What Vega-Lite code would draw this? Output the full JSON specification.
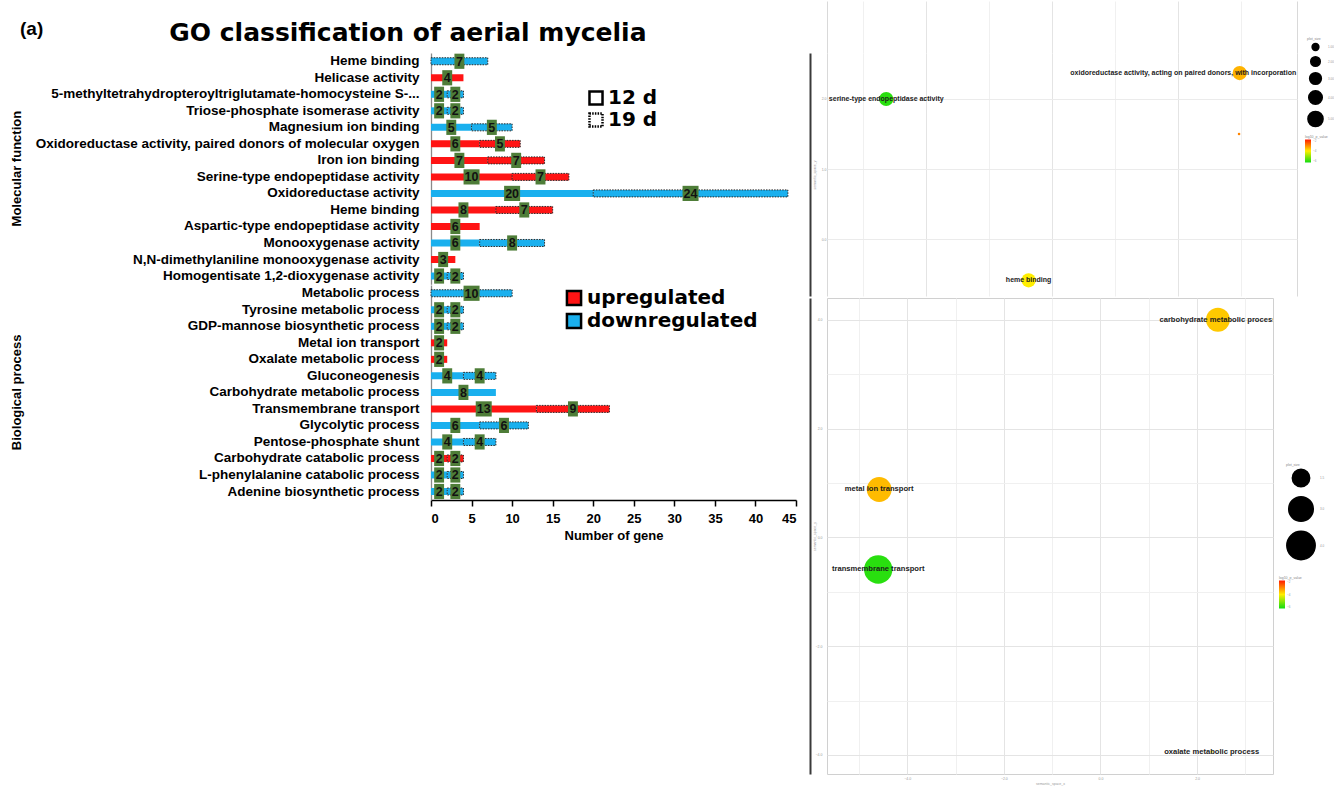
{
  "$schema": "https://vega.github.io/schema/vega-lite/v6.json",
  "background": "white",
  "padding": {"left": 11, "top": 0, "right": 0, "bottom": 0},
  "title": {"text": "(a)", "anchor": "start", "orient": "top", "offset": -38, "dx": 9, "font": "Liberation Sans", "fontSize": 19, "fontWeight": "bold", "color": "black"},
  "config": {"view": {"stroke": null}, "font": "Liberation Sans"},
  "spacing": 12,
  "resolve": {"scale": {"color": "independent", "size": "independent", "strokeDash": "independent"}, "legend": {"color": "independent", "size": "independent", "strokeDash": "independent"}},
  "hconcat": [
    {
      "data": {"values": [
        {"term": "Heme binding", "group": "Molecular function", "order": 1, "period": "19 d", "value": 7, "reg": "downregulated"},
        {"term": "Helicase activity", "group": "Molecular function", "order": 2, "period": "12 d", "value": 4, "reg": "upregulated"},
        {"term": "5-methyltetrahydropteroyltriglutamate-homocysteine S-...", "group": "Molecular function", "order": 3, "period": "12 d", "value": 2, "reg": "downregulated"},
        {"term": "5-methyltetrahydropteroyltriglutamate-homocysteine S-...", "group": "Molecular function", "order": 3, "period": "19 d", "value": 2, "reg": "downregulated"},
        {"term": "Triose-phosphate isomerase activity", "group": "Molecular function", "order": 4, "period": "12 d", "value": 2, "reg": "downregulated"},
        {"term": "Triose-phosphate isomerase activity", "group": "Molecular function", "order": 4, "period": "19 d", "value": 2, "reg": "downregulated"},
        {"term": "Magnesium ion binding", "group": "Molecular function", "order": 5, "period": "12 d", "value": 5, "reg": "downregulated"},
        {"term": "Magnesium ion binding", "group": "Molecular function", "order": 5, "period": "19 d", "value": 5, "reg": "downregulated"},
        {"term": "Oxidoreductase activity, paired donors of molecular oxygen", "group": "Molecular function", "order": 6, "period": "12 d", "value": 6, "reg": "upregulated"},
        {"term": "Oxidoreductase activity, paired donors of molecular oxygen", "group": "Molecular function", "order": 6, "period": "19 d", "value": 5, "reg": "upregulated"},
        {"term": "Iron ion binding", "group": "Molecular function", "order": 7, "period": "12 d", "value": 7, "reg": "upregulated"},
        {"term": "Iron ion binding", "group": "Molecular function", "order": 7, "period": "19 d", "value": 7, "reg": "upregulated"},
        {"term": "Serine-type endopeptidase activity", "group": "Molecular function", "order": 8, "period": "12 d", "value": 10, "reg": "upregulated"},
        {"term": "Serine-type endopeptidase activity", "group": "Molecular function", "order": 8, "period": "19 d", "value": 7, "reg": "upregulated"},
        {"term": "Oxidoreductase activity", "group": "Molecular function", "order": 9, "period": "12 d", "value": 20, "reg": "downregulated"},
        {"term": "Oxidoreductase activity", "group": "Molecular function", "order": 9, "period": "19 d", "value": 24, "reg": "downregulated"},
        {"term": "Heme binding\u200b", "group": "Molecular function", "order": 10, "period": "12 d", "value": 8, "reg": "upregulated"},
        {"term": "Heme binding\u200b", "group": "Molecular function", "order": 10, "period": "19 d", "value": 7, "reg": "upregulated"},
        {"term": "Aspartic-type endopeptidase activity", "group": "Molecular function", "order": 11, "period": "12 d", "value": 6, "reg": "upregulated"},
        {"term": "Monooxygenase activity", "group": "Molecular function", "order": 12, "period": "12 d", "value": 6, "reg": "downregulated"},
        {"term": "Monooxygenase activity", "group": "Molecular function", "order": 12, "period": "19 d", "value": 8, "reg": "downregulated"},
        {"term": "N,N-dimethylaniline monooxygenase activity", "group": "Molecular function", "order": 13, "period": "12 d", "value": 3, "reg": "upregulated"},
        {"term": "Homogentisate 1,2-dioxygenase activity", "group": "Molecular function", "order": 14, "period": "12 d", "value": 2, "reg": "downregulated"},
        {"term": "Homogentisate 1,2-dioxygenase activity", "group": "Molecular function", "order": 14, "period": "19 d", "value": 2, "reg": "downregulated"},
        {"term": "Metabolic process", "group": "Biological process", "order": 15, "period": "19 d", "value": 10, "reg": "downregulated"},
        {"term": "Tyrosine metabolic process", "group": "Biological process", "order": 16, "period": "12 d", "value": 2, "reg": "downregulated"},
        {"term": "Tyrosine metabolic process", "group": "Biological process", "order": 16, "period": "19 d", "value": 2, "reg": "downregulated"},
        {"term": "GDP-mannose biosynthetic process", "group": "Biological process", "order": 17, "period": "12 d", "value": 2, "reg": "downregulated"},
        {"term": "GDP-mannose biosynthetic process", "group": "Biological process", "order": 17, "period": "19 d", "value": 2, "reg": "downregulated"},
        {"term": "Metal ion transport", "group": "Biological process", "order": 18, "period": "12 d", "value": 2, "reg": "upregulated"},
        {"term": "Oxalate metabolic process", "group": "Biological process", "order": 19, "period": "12 d", "value": 2, "reg": "upregulated"},
        {"term": "Gluconeogenesis", "group": "Biological process", "order": 20, "period": "12 d", "value": 4, "reg": "downregulated"},
        {"term": "Gluconeogenesis", "group": "Biological process", "order": 20, "period": "19 d", "value": 4, "reg": "downregulated"},
        {"term": "Carbohydrate metabolic process", "group": "Biological process", "order": 21, "period": "12 d", "value": 8, "reg": "downregulated"},
        {"term": "Transmembrane transport", "group": "Biological process", "order": 22, "period": "12 d", "value": 13, "reg": "upregulated"},
        {"term": "Transmembrane transport", "group": "Biological process", "order": 22, "period": "19 d", "value": 9, "reg": "upregulated"},
        {"term": "Glycolytic process", "group": "Biological process", "order": 23, "period": "12 d", "value": 6, "reg": "downregulated"},
        {"term": "Glycolytic process", "group": "Biological process", "order": 23, "period": "19 d", "value": 6, "reg": "downregulated"},
        {"term": "Pentose-phosphate shunt", "group": "Biological process", "order": 24, "period": "12 d", "value": 4, "reg": "downregulated"},
        {"term": "Pentose-phosphate shunt", "group": "Biological process", "order": 24, "period": "19 d", "value": 4, "reg": "downregulated"},
        {"term": "Carbohydrate catabolic process", "group": "Biological process", "order": 25, "period": "12 d", "value": 2, "reg": "upregulated"},
        {"term": "Carbohydrate catabolic process", "group": "Biological process", "order": 25, "period": "19 d", "value": 2, "reg": "upregulated"},
        {"term": "L-phenylalanine catabolic process", "group": "Biological process", "order": 26, "period": "12 d", "value": 2, "reg": "downregulated"},
        {"term": "L-phenylalanine catabolic process", "group": "Biological process", "order": 26, "period": "19 d", "value": 2, "reg": "downregulated"},
        {"term": "Adenine biosynthetic process", "group": "Biological process", "order": 27, "period": "12 d", "value": 2, "reg": "downregulated"},
        {"term": "Adenine biosynthetic process", "group": "Biological process", "order": 27, "period": "19 d", "value": 2, "reg": "downregulated"}
      ]},
      "transform": [
        {"stack": "value", "groupby": ["term"], "sort": [{"field": "period"}], "as": ["x0", "x1"]},
        {"calculate": "(datum.x0 + datum.x1) / 2", "as": "mid"}
      ],
      "title": {"text": "\u00a0", "fontSize": 9, "subtitle": "GO classification of aerial mycelia", "subtitleFont": "DejaVu Sans", "subtitleFontSize": 25, "subtitleFontWeight": "bold", "subtitleColor": "black", "subtitlePadding": 2, "anchor": "middle", "offset": 7, "dx": 4},
      "facet": {"row": {"field": "group", "type": "nominal", "sort": ["Molecular function", "Biological process"], "header": {"title": null, "labelAngle": -90, "labelOrient": "left", "labelFontSize": 13, "labelFontWeight": "bold", "labelFont": "Liberation Sans", "labelPadding": 5, "labelColor": "black"}}},
      "spacing": {"row": 0},
      "resolve": {"scale": {"y": "independent"}},
      "spec": {
        "width": 365,
        "height": {"step": 16.52},
        "encoding": {
          "y": {"field": "term", "type": "nominal", "sort": {"field": "order", "op": "min"}, "scale": {"paddingInner": 0, "paddingOuter": 0},
            "axis": {"title": null, "ticks": false, "labelPadding": 12, "labelFontSize": 13.5, "labelFontWeight": "bold", "labelColor": "black", "labelLimit": 500, "domainColor": "#8a8a8a", "domainWidth": 1.3}}
        },
        "layer": [
          {
            "mark": {"type": "bar", "height": 7},
            "encoding": {
              "x": {"field": "x0", "type": "quantitative", "scale": {"domain": [0, 45], "nice": false},
                "axis": {"title": "Number of gene", "values": [0, 5, 10, 15, 20, 25, 30, 35, 40, 45], "grid": false, "titleFontSize": 13, "titleFontWeight": "bold", "titleColor": "black", "titlePadding": 4, "labelFontSize": 13, "labelFontWeight": "bold", "labelColor": "black", "labelPadding": 6, "tickSize": 6, "tickColor": "black", "tickWidth": 1.5, "domainColor": "black", "domainWidth": 1.5}},
              "x2": {"field": "x1"},
              "color": {"field": "reg", "type": "nominal", "scale": {"domain": ["upregulated", "downregulated"], "range": ["#ff1414", "#1ab0ee"]},
                "legend": {"title": null, "orient": "none", "legendX": 133, "legendY": 235, "symbolType": "square", "symbolSize": 200, "symbolStrokeWidth": 2.5, "symbolStrokeColor": "black", "labelFont": "DejaVu Sans", "labelFontSize": 20, "labelFontWeight": "bold", "labelColor": "black", "labelLimit": 400, "rowPadding": -9, "labelOffset": 3}}
            }
          },
          {
            "transform": [{"filter": "datum.period == '19 d'"}],
            "mark": {"type": "bar", "height": 7, "filled": false, "color": "#2a2a2a", "strokeWidth": 1},
            "encoding": {
              "x": {"field": "x0", "type": "quantitative"},
              "x2": {"field": "x1"},
              "strokeDash": {"field": "period", "type": "nominal", "scale": {"domain": ["12 d", "19 d"], "range": [[1, 0], [1.5, 1.2]]},
                "legend": {"title": null, "orient": "none", "legendX": 155, "legendY": 35, "symbolType": "square", "symbolSize": 170, "symbolStrokeWidth": 2.5, "symbolStrokeColor": "black", "symbolFillColor": "white", "labelFont": "DejaVu Sans", "labelFontSize": 20, "labelFontWeight": "bold", "labelColor": "black", "labelLimit": 300, "rowPadding": -2, "labelOffset": 2,
                  "encode": {"symbols": {"update": {"strokeDash": {"signal": "datum.value == '19 d' ? [3.5, 2.5] : [1, 0]"}, "stroke": {"value": "black"}, "strokeWidth": {"value": 2.5}}}}}
              }
            }
          },
          {
            "mark": {"type": "point", "filled": true, "opacity": 1, "color": "#4e7d38", "size": 256, "strokeWidth": 0},
            "encoding": {
              "x": {"field": "mid", "type": "quantitative"},
              "shape": {"condition": {"test": "datum.value >= 10", "value": "M-1,-0.95H1V0.95H-1Z"}, "value": "M-0.62,-0.95H0.62V0.95H-0.62Z"}
            }
          },
          {
            "mark": {"type": "text", "fontSize": 12.5, "fontWeight": "bold", "color": "#111111", "baseline": "middle", "dy": 0.5},
            "encoding": {
              "x": {"field": "mid", "type": "quantitative"},
              "text": {"field": "value", "type": "quantitative"}
            }
          }
        ]
      }
    },
    {
      "spacing": 2,
      "bounds": "flush",
      "resolve": {"scale": {"color": "independent", "size": "independent"}, "legend": {"color": "independent", "size": "independent"}},
      "vconcat": [
        {
          "width": 470,
          "height": 243,
          "view": {"stroke": null},
          "data": {"values": [
            {"term": "serine-type endopeptidase activity", "label": "serine-type endopeptidase activity", "sx": -2.63, "sy": 2.0, "plot_size": 4.4, "log10_p_value": -5.8},
            {"term": "oxidoreductase activity, acting on paired donors, with incorporation or reduction of molecular oxygen", "label": "oxidoreductase activity, acting on paired donors, with incorporation or reduction of molecular oxygen", "sx": 2.98, "sy": 2.37, "plot_size": 4.4, "log10_p_value": -3.44},
            {"term": "monooxygenase activity", "label": "", "sx": 2.97, "sy": 1.5, "plot_size": 0.15, "log10_p_value": -3.0},
            {"term": "heme binding", "label": "heme binding", "sx": -0.37, "sy": -0.59, "plot_size": 4.4, "log10_p_value": -4.0}
          ]},
          "encoding": {
            "x": {"field": "sx", "type": "quantitative", "scale": {"domain": [-3.57, 3.89], "nice": false, "zero": false},
              "axis": {"orient": "top", "values": [-3.57, -3, -2, -1, 0, 1, 2, 3, 3.89], "labels": false, "ticks": true, "tickSize": 52, "tickWidth": 1, "domain": false, "title": null, "grid": true, "gridWidth": 1,
                "tickColor": {"condition": [{"test": "datum.value < -3.5 || datum.value > 3.8", "value": "#d9d9d9"}, {"test": "datum.value % 2 == 0", "value": "#e4e4e4"}], "value": "#f0f0f0"},
                "gridColor": {"condition": [{"test": "datum.value < -3.5 || datum.value > 3.8", "value": "#d9d9d9"}, {"test": "datum.value % 2 == 0", "value": "#e4e4e4"}], "value": "#f0f0f0"}}},
            "y": {"field": "sy", "type": "quantitative", "scale": {"domain": [-0.814, 2.657], "nice": false, "zero": false},
              "axis": {"values": [0, 1, 2], "format": ".1f", "labelFontSize": 3.5, "labelColor": "#9a9a9a", "ticks": false, "domain": true, "domainColor": "#3a3a3a", "domainWidth": 2, "offset": 17, "labelPadding": -16, "title": "semantic_space_y", "titleFontSize": 3.5, "titleColor": "#9a9a9a", "titleFontWeight": "normal", "titlePadding": -6, "grid": true, "gridColor": "#ebebeb"}}
          },
          "layer": [
            {
              "mark": {"type": "circle", "opacity": 1},
              "encoding": {
                "size": {"field": "plot_size", "type": "quantitative", "scale": {"domain": [0, 5], "range": [0, 230]},
                  "legend": {"orient": "none", "legendX": 480, "legendY": -16, "title": "plot_size", "values": [1, 2, 3, 4, 5], "format": ".2f", "titleFontSize": 3.5, "titleColor": "#888888", "titleFontWeight": "normal", "labelFontSize": 3, "labelColor": "#999999", "symbolFillColor": "black", "symbolStrokeColor": "black", "symbolOpacity": 1, "rowPadding": 0, "titlePadding": 2}},
                "color": {"field": "log10_p_value", "type": "quantitative", "scale": {"domain": [-6, -4, -2], "range": ["#11dd11", "#ffee00", "#ff1a00"], "interpolate": "rgb"},
                  "legend": {"orient": "none", "legendX": 478, "legendY": 82, "title": "log10_p_value", "titleFontSize": 3.5, "titleColor": "#888888", "titleFontWeight": "normal", "gradientLength": 23, "gradientThickness": 6, "labelFontSize": 3, "labelColor": "#999999", "titlePadding": 1}}
              }
            },
            {
              "mark": {"type": "text", "fontSize": 7, "fontWeight": "bold", "color": "#1c1c1c", "clip": true},
              "encoding": {"text": {"field": "label"}}
            }
          ]
        },
        {
          "width": 446,
          "height": 476,
          "view": {"stroke": "#d0d0d0"},
          "data": {"values": [
            {"term": "carbohydrate metabolic process", "sx": 2.43, "sy": 4.0, "plot_size": 2.85, "log10_p_value": -3.65},
            {"term": "metal ion transport", "sx": -4.58, "sy": 0.88, "plot_size": 3.06, "log10_p_value": -3.52},
            {"term": "transmembrane transport", "sx": -4.6, "sy": -0.59, "plot_size": 4.0, "log10_p_value": -5.8},
            {"term": "oxalate metabolic process", "sx": 2.3, "sy": -3.94, "plot_size": 0.02, "log10_p_value": -4.0}
          ]},
          "encoding": {
            "x": {"field": "sx", "type": "quantitative", "scale": {"domain": [-5.66, 3.57], "nice": false, "zero": false},
              "axis": {"values": [-5, -4, -3, -2, -1, 0, 1, 2, 3], "labelExpr": "datum.value % 2 == 0 ? format(datum.value, '.1f') : ''", "labelFontSize": 3.5, "labelColor": "#9a9a9a", "ticks": false, "domain": false, "labelPadding": 2, "title": "semantic_space_x", "titleFontSize": 3.5, "titleColor": "#9a9a9a", "titleFontWeight": "normal", "titlePadding": 2, "grid": true, "gridWidth": 1, "gridColor": {"condition": {"test": "datum.value % 2 == 0", "value": "#e4e4e4"}, "value": "#f0f0f0"}}},
            "y": {"field": "sy", "type": "quantitative", "scale": {"domain": [-4.35, 4.4], "nice": false, "zero": false},
              "axis": {"values": [-4, -3, -2, -1, 0, 1, 2, 3, 4], "labelExpr": "datum.value % 2 == 0 ? format(datum.value, '.1f') : ''", "labelFontSize": 3.5, "labelColor": "#9a9a9a", "ticks": false, "domain": true, "domainColor": "#3a3a3a", "domainWidth": 2, "offset": 17, "labelPadding": -12, "title": "semantic_space_y", "titleFontSize": 3.5, "titleColor": "#9a9a9a", "titleFontWeight": "normal", "titlePadding": -6, "grid": true, "gridWidth": 1, "gridColor": {"condition": {"test": "datum.value % 2 == 0", "value": "#e4e4e4"}, "value": "#f0f0f0"}}}
          },
          "layer": [
            {
              "mark": {"type": "circle", "opacity": 1},
              "encoding": {
                "size": {"field": "plot_size", "type": "quantitative", "scale": {"domain": [0, 4], "range": [0, 804]},
                  "legend": {"orient": "none", "legendX": 459, "legendY": 165, "title": "plot_size", "values": [1.5, 3, 4], "format": ".1f", "titleFontSize": 3.5, "titleColor": "#888888", "titleFontWeight": "normal", "labelFontSize": 3, "labelColor": "#999999", "symbolFillColor": "black", "symbolStrokeColor": "black", "symbolOpacity": 1, "rowPadding": 3, "titlePadding": 2}},
                "color": {"field": "log10_p_value", "type": "quantitative", "scale": {"domain": [-6, -4, -2], "range": ["#11dd11", "#ffee00", "#ff1a00"], "interpolate": "rgb"},
                  "legend": {"orient": "none", "legendX": 452, "legendY": 278, "title": "log10_p_value", "titleFontSize": 3.5, "titleColor": "#888888", "titleFontWeight": "normal", "gradientLength": 28, "gradientThickness": 6, "labelFontSize": 3, "labelColor": "#999999", "titlePadding": 1}}
              }
            },
            {
              "mark": {"type": "text", "fontSize": 7.6, "fontWeight": "bold", "color": "#1c1c1c", "clip": true},
              "encoding": {"text": {"field": "term"}}
            }
          ]
        }
      ]
    }
  ]
}
